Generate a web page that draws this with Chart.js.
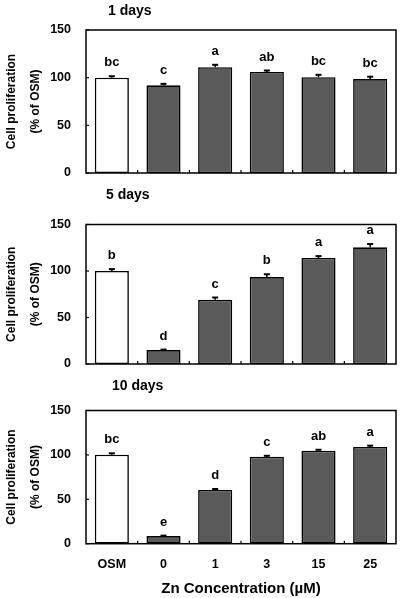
<!DOCTYPE html>
<html>
<head>
<meta charset="utf-8">
<script src="https://cdn.jsdelivr.net/npm/chart.js@4.4.0/dist/chart.umd.min.js"></script>
<style>
  body { margin: 0; background: #fff; }
  canvas { position: absolute; left: 0; }
</style>
</head>
<body>
<canvas id="day1" width="403" height="186" style="top:0px"></canvas>
<canvas id="day5" width="403" height="186" style="top:186px"></canvas>
<canvas id="day10" width="403" height="226" style="top:372px"></canvas>
<script>
  const groups = ['OSM', '0', '1', '3', '15', '25'];
  const yTicks = [0, 50, 100, 150];

  const day1Values = [100, 92, 111, 106, 100.5, 98.5];
  const day1Errors = [1.5, 1.5, 2.5, 1.5, 2.5, 2.5];
  const day1Letters = ['bc', 'c', 'a', 'ab', 'bc', 'bc'];

  const day5Values = [100, 15, 69, 93.5, 114, 125.5];
  const day5Errors = [2, 0.5, 2.5, 3, 2, 3.5];
  const day5Letters = ['b', 'd', 'c', 'b', 'a', 'a'];

  const day10Values = [100.3, 8.6, 60.6, 98, 104.8, 108.9];
  const day10Errors = [1.5, 0.5, 1, 1, 1, 1.5];
  const day10Letters = ['bc', 'e', 'd', 'c', 'ab', 'a'];

  const FONT = '"Liberation Sans", Arial, sans-serif';
  Chart.defaults.font.family = FONT;
  Chart.defaults.font.weight = 'bold';
  Chart.defaults.color = '#000';

  // error bars, letters, frame, inward ticks, panel title
  const extras = {
    id: 'extras',
    afterDatasetsDraw(chart, args, opts) {
      const ctx = chart.ctx;
      const x = chart.scales.x, y = chart.scales.y;
      const area = chart.chartArea;
      const meta = chart.getDatasetMeta(0);
      ctx.save();
      ctx.strokeStyle = '#000';
      ctx.fillStyle = '#000';
      meta.data.forEach(function (bar, i) {
        const top = y.getPixelForValue(opts.values[i] + opts.errors[i]);
        ctx.lineWidth = 1.5;
        ctx.beginPath();
        ctx.moveTo(bar.x, bar.y);
        ctx.lineTo(bar.x, top);
        ctx.stroke();
        ctx.lineWidth = 2;
        ctx.beginPath();
        ctx.moveTo(bar.x - 3, top);
        ctx.lineTo(bar.x + 3, top);
        ctx.stroke();
        ctx.font = 'bold 13px ' + FONT;
        ctx.textAlign = 'center';
        ctx.textBaseline = 'middle';
        ctx.fillText(opts.letters[i], bar.x, top - 13.5);
      });

      ctx.lineWidth = 1.5;
      ctx.strokeRect(area.left, area.top, area.right - area.left, area.bottom - area.top);
      ctx.lineWidth = 1.2;
      yTicks.forEach(function (v) {
        const py = y.getPixelForValue(v);
        ctx.beginPath();
        ctx.moveTo(area.left, py);
        ctx.lineTo(area.left + 3, py);
        ctx.stroke();
      });
      for (let i = 1; i < groups.length; i++) {
        const px = (x.getPixelForValue(i - 1) + x.getPixelForValue(i)) / 2;
        ctx.beginPath();
        ctx.moveTo(px, area.bottom);
        ctx.lineTo(px, area.bottom - 3);
        ctx.stroke();
      }

      ctx.font = 'bold 14px ' + FONT;
      ctx.textAlign = 'left';
      ctx.textBaseline = 'middle';
      ctx.fillText(opts.title, opts.titleX, opts.titleY);
      ctx.restore();
    }
  };

  function makePanel(id, values, errors, letters, title, titleX, titleY, padTop, xHeight, showX) {
    const ctx = document.getElementById(id);
    new Chart(ctx, {
      type: 'bar',
      data: {
        labels: groups,
        datasets: [{
          data: values,
          backgroundColor: ['#ffffff', '#5a5a5a', '#5a5a5a', '#5a5a5a', '#5a5a5a', '#5a5a5a'],
          borderColor: '#000',
          borderWidth: 1.6,
          borderSkipped: false,
          barPercentage: 0.66,
          categoryPercentage: 1
        }]
      },
      options: {
        responsive: false,
        animation: false,
        layout: { padding: { top: padTop, right: 7, left: 0, bottom: 0 } },
        plugins: {
          legend: { display: false },
          tooltip: { enabled: false },
          extras: { values: values, errors: errors, letters: letters, title: title, titleX: titleX, titleY: titleY }
        },
        scales: {
          x: {
            grid: { display: false, drawTicks: false },
            border: { display: false },
            ticks: { display: showX, padding: 13, font: { size: 12.5, weight: 'bold' }, color: '#000' },
            title: {
              display: showX,
              text: 'Zn Concentration (µM)',
              font: { size: 15, weight: 'bold' },
              color: '#000',
              padding: 0
            },
            afterFit: function (scale) {
              scale.height = xHeight;
              scale.paddingLeft = 0;
              scale.paddingRight = 0;
            }
          },
          y: {
            min: 0,
            max: 150,
            grid: { display: false, drawTicks: false },
            border: { display: false },
            ticks: { stepSize: 50, padding: 15, font: { size: 12.5, weight: 'bold' }, color: '#000' },
            title: {
              display: true,
              text: ['Cell proliferation', '(% of OSM)'],
              font: { size: 12, weight: 'bold', lineHeight: 2 },
              color: '#000',
              padding: 0
            },
            afterFit: function (scale) {
              scale.width = 86;
              scale.paddingTop = 0;
              scale.paddingBottom = 0;
            }
          }
        }
      },
      plugins: [extras]
    });
  }

  makePanel('day1', day1Values, day1Errors, day1Letters, '1 days', 108, 11, 30, 13, false);
  makePanel('day5', day5Values, day5Errors, day5Letters, '5 days', 106, 9, 38.5, 8, false);
  makePanel('day10', day10Values, day10Errors, day10Letters, '10 days', 112, 14, 38.5, 54.3, true);
</script>
</body>
</html>
